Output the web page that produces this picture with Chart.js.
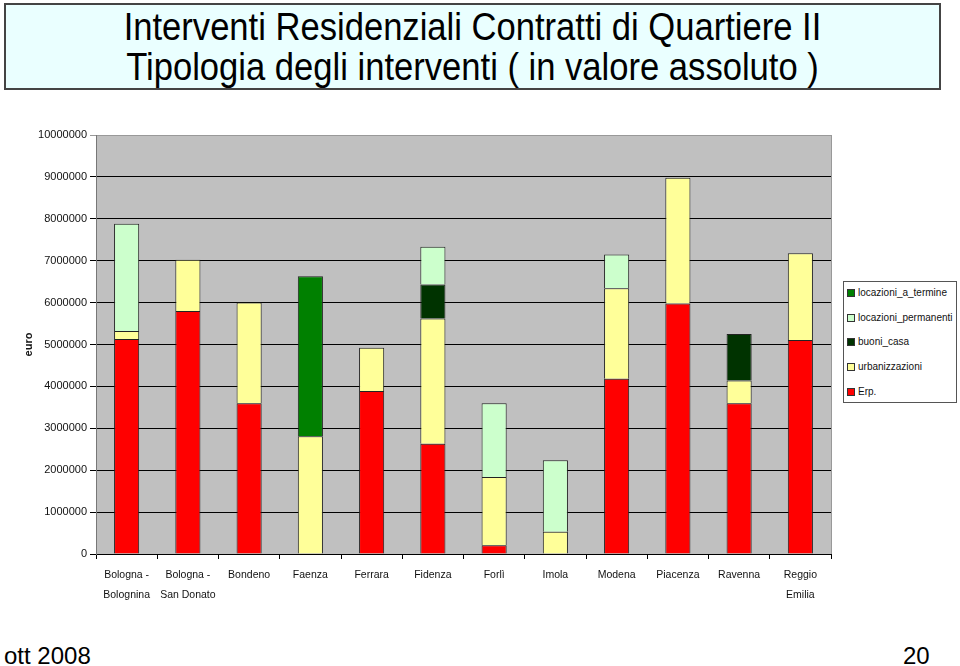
<!DOCTYPE html>
<html>
<head>
<meta charset="utf-8">
<script src="https://cdn.jsdelivr.net/npm/chart.js@4/dist/chart.umd.min.js"></script>
<style>
  body { margin: 0; width: 960px; height: 666px; background: #fff; position: relative; overflow: hidden; font-family: "Liberation Sans", Arial, sans-serif; }
  #titlebox { position: absolute; left: 4px; top: 3px; width: 933px; height: 83px; border: 2px solid #444; background: #eaffff; }
  #titlebox div { position: absolute; left: 0; width: 100%; text-align: center; font-size: 38px; color: #000; white-space: nowrap; line-height: 40px; transform: scaleX(0.91); }
  #wrap { position: absolute; left: 0; top: 100px; width: 960px; height: 520px; }
  #legend { position: absolute; left: 843px; top: 281px; width: 112px; height: 120px; border: 1px solid #555; background: #fff; }
  .li { position: absolute; left: 3px; font-size: 10px; color: #111; white-space: nowrap; line-height: 12px; }
  .li span { display: inline-block; width: 6px; height: 6px; border: 1px solid #333; margin-right: 3px; vertical-align: -1px; }
  #foot1 { position: absolute; left: 4px; top: 642px; font-size: 24px; }
  #foot2 { position: absolute; left: 903px; top: 642px; font-size: 24px; }
</style>
</head>
<body>
<div id="titlebox">
  <div style="top:2px">Interventi Residenziali Contratti di Quartiere II</div>
  <div style="top:42px">Tipologia degli interventi ( in valore assoluto )</div>
</div>
<div id="wrap"><canvas id="myChart" width="960" height="520"></canvas></div>
<div id="legend"></div>
<div id="foot1">ott 2008</div>
<div id="foot2">20</div>
<script>
const categories = [
  ['Bologna -', 'Bolognina'], ['Bologna -', 'San Donato'], 'Bondeno', 'Faenza', 'Ferrara', 'Fidenza',
  'Forlì', 'Imola', 'Modena', 'Piacenza', 'Ravenna', ['Reggio', 'Emilia']
];
const erp          = [5130000, 5800000, 3600000, 0, 3890000, 2630000, 210000, 0, 4180000, 5980000, 3600000, 5110000];
const urbanizz     = [190000, 1220000, 2400000, 2810000, 1030000, 2990000, 1630000, 530000, 2160000, 3000000, 540000, 2070000];
const buoniCasa    = [0, 0, 0, 0, 0, 810000, 0, 0, 0, 0, 1110000, 0];
const locPermanenti = [2560000, 0, 0, 0, 0, 900000, 1760000, 1710000, 810000, 0, 0, 0];
const locTermine   = [0, 0, 0, 3820000, 0, 0, 0, 0, 0, 0, 0, 0];
const yTicks = [0, 1000000, 2000000, 3000000, 4000000, 5000000, 6000000, 7000000, 8000000, 9000000, 10000000];

const plotBg = {
    id: 'plotBg',
    beforeDraw(chart) {
        const a = chart.chartArea;
        const c = chart.ctx;
        c.save();
        c.fillStyle = '#c0c0c0';
        c.fillRect(a.left, a.top, a.right - a.left, a.bottom - a.top);
        c.strokeStyle = '#999';
        c.lineWidth = 1;
        c.beginPath();
        c.moveTo(a.right + 0.5, a.top);
        c.lineTo(a.right + 0.5, a.bottom);
        c.stroke();
        c.restore();
    }
};

function ds(label, data, color) {
    return { label: label, data: data, backgroundColor: color, borderColor: '#222', borderWidth: 1,
             barPercentage: 0.41, categoryPercentage: 1 };
}

const chart = new Chart(document.getElementById('myChart'), {
    type: 'bar',
    data: {
        labels: categories,
        datasets: [
            ds('Erp.', erp, '#ff0000'),
            ds('urbanizzazioni', urbanizz, '#ffff99'),
            ds('buoni_casa', buoniCasa, '#003300'),
            ds('locazioni_permanenti', locPermanenti, '#ccffcc'),
            ds('locazioni_a_termine', locTermine, '#008000')
        ]
    },
    options: {
        responsive: false,
        animation: false,
        layout: { padding: { top: 35, right: 129, left: 0, bottom: 0 } },
        plugins: { legend: { display: false }, tooltip: { enabled: false } },
        scales: {
            x: {
                stacked: true,
                afterFit: s => { s.height = 66; },
                grid: { drawOnChartArea: false, tickLength: 5, color: '#000' },
                border: { color: '#000' },
                ticks: { color: '#111', padding: 6, maxRotation: 0, autoSkip: false,
                         font: { family: 'Liberation Sans', size: 10.5, lineHeight: '20px' } }
            },
            y: {
                stacked: true,
                min: 0, max: 10000000,
                afterFit: s => { s.width = 96; },
                afterBuildTicks: s => { s.ticks = yTicks.map(v => ({ value: v })); },
                grid: { tickLength: 6, color: c => (c.tick && c.tick.value === 10000000) ? '#999' : '#000' },
                border: { color: '#777' },
                ticks: { color: '#111', padding: 3, font: { family: 'Liberation Sans', size: 11 },
                         callback: v => String(v) },
                title: { display: true, text: 'euro', color: '#111', padding: { top: 22 },
                         font: { family: 'Liberation Sans', size: 11, weight: 'bold' } }
            }
        }
    },
    plugins: [plotBg]
});

// legend built from the datasets, top to bottom like the original
const leg = document.getElementById('legend');
chart.data.datasets.slice().reverse().forEach((d, i) => {
    const el = document.createElement('div');
    el.className = 'li';
    el.style.top = (5 + i * 24.7) + 'px';
    el.innerHTML = '<span style="background:' + d.backgroundColor + '"></span>' + d.label;
    leg.appendChild(el);
});
</script>
</body>
</html>
